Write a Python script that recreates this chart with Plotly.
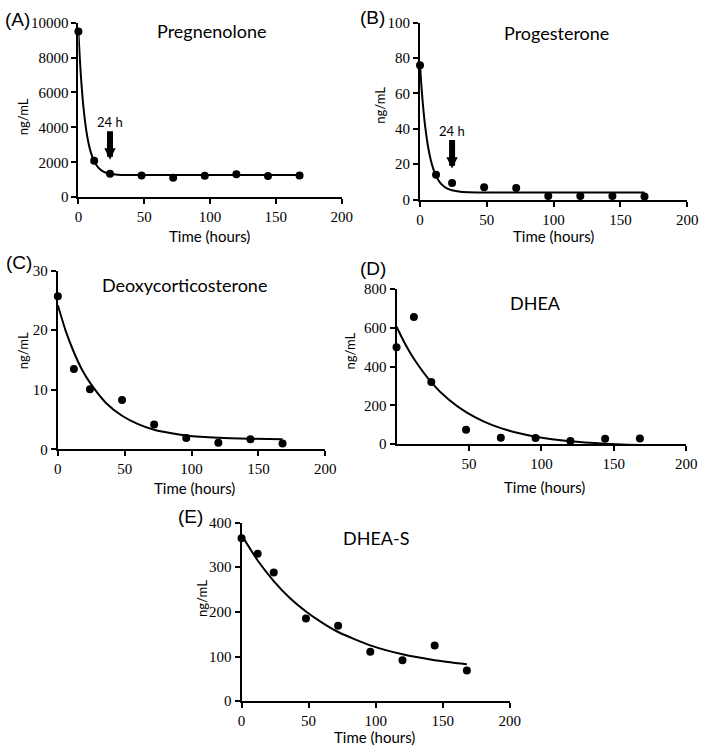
import plotly.graph_objects as go

W, H = 709, 753

# ---------------- data ----------------
time_h = [0, 12, 24, 48, 72, 96, 120, 144, 168]

preg_y = [9500, 2090, 1350, 1250, 1120, 1235, 1310, 1215, 1250]
prog_y = [76, 14.0, 9.4, 7.0, 6.5, 2.0, 2.0, 2.0, 1.7]
doc_y = [25.7, 13.5, 10.1, 8.3, 4.2, 1.9, 1.1, 1.7, 1.0]
dhea_y = [500, 655, 320, 75, 33, 32, 17, 28, 30]
dheas_y = [365, 330, 288, 185, 169, 111, 92, 125, 69]

# fitted decay curves
preg_fit_t = [0, 1, 2, 3, 4, 6, 8, 10, 12, 15, 18, 21, 24, 30, 36, 48, 168]
preg_fit_y = [9500, 8040, 6840, 5850, 5040, 3820, 2995, 2437, 2058, 1707, 1511, 1402, 1341, 1289, 1272, 1266, 1265]

prog_fit_t = [0, 1, 2, 3, 4, 6, 8, 10, 12, 15, 18, 21, 24, 30, 36, 48, 168]
prog_fit_y = [76, 64.7, 55.2, 47.2, 40.5, 30.0, 22.5, 17.2, 13.4, 9.6, 7.4, 6.0, 5.2, 4.4, 4.16, 4.0, 4.0]

doc_fit_t = [0, 6, 12, 18, 24, 36, 48, 60, 72, 84, 96, 120, 144, 168]
doc_fit_y = [24.2, 19.8, 16.3, 13.4, 11.2, 7.8, 5.65, 4.25, 3.3, 2.75, 2.35, 1.95, 1.78, 1.7]

dhea_fit_t = [0, 6, 12, 24, 36, 48, 60, 72, 84, 96, 120, 144, 168]
dhea_fit_y = [605, 516, 440, 319, 230, 165, 118, 83, 57.5, 38.8, 15.3, 2.6, -4.2]

dheas_fit_t = [0, 12, 24, 36, 48, 60, 72, 96, 120, 144, 168]
dheas_fit_y = [372, 315, 269, 231, 201, 176, 155, 125, 105, 92, 83]

x_ticks = [0, 50, 100, 150, 200]
x_ticks_d = [50, 100, 150, 200]

arrow_time = 24
arrow_label = "24 h"
preg_arrow_tip = 2150
prog_arrow_tip = 17.5

panels = [
    dict(label="(A)", title="Pregnenolone", y=preg_y, ft=preg_fit_t, fy=preg_fit_y,
         yr=[0, 10000], yt=[0, 2000, 4000, 6000, 8000, 10000], xt=x_ticks,
         box=(76, 345, 15, 193.3), lab=(14, 12), tit=(212.7, 24), yl=(19, 111), xl=(210, 233)),
    dict(label="(B)", title="Progesterone", y=prog_y, ft=prog_fit_t, fy=prog_fit_y,
         yr=[0, 100], yt=[0, 20, 40, 60, 80, 100], xt=x_ticks,
         box=(425, 698, 15, 195.7), lab=(376, 10), tit=(564.7, 26), yl=(384, 99), xl=(561, 233)),
    dict(label="(C)", title="Deoxycorticosterone", y=doc_y, ft=doc_fit_t, fy=doc_fit_y,
         yr=[0, 30], yt=[0, 10, 20, 30], xt=x_ticks,
         box=(55, 328.3, 268.3, 451), lab=(15, 260), tit=(184.5, 283), yl=(19, 350), xl=(195, 490)),
    dict(label="(D)", title="DHEA", y=dhea_y, ft=dhea_fit_t, fy=dhea_fit_y,
         yr=[0, 800], yt=[0, 200, 400, 600, 800], xt=x_ticks_d,
         box=(401, 697, 287, 445.7), lab=(377, 266), tit=(543, 301), yl=(352.5, 351), xl=(552, 489)),
    dict(label="(E)", title="DHEA-S", y=dheas_y, ft=dheas_fit_t, fy=dheas_fit_y,
         yr=[0, 400], yt=[0, 100, 200, 300, 400], xt=x_ticks,
         box=(242.7, 516.7, 525.7, 708.3), lab=(191, 520), tit=(379.7, 541), yl=(202, 603), xl=(379, 745)),
]

SERIF = "Liberation Serif, Times New Roman, serif"
SANS = "Lato, Open Sans, sans-serif"
LABEL_FONT = "Liberation Sans, Arial, sans-serif"

def px(x):
    return x / W

def py(y):
    return 1 - y / H

fig = go.Figure()
annotations = []

for i, p in enumerate(panels, start=1):
    xa = "x" if i == 1 else f"x{i}"
    ya = "y" if i == 1 else f"y{i}"
    fig.add_trace(go.Scatter(x=p["ft"], y=p["fy"], mode="lines", xaxis=xa, yaxis=ya,
                             line=dict(color="black", width=2, shape="spline", smoothing=0.6),
                             showlegend=False, hoverinfo="skip", cliponaxis=False))
    fig.add_trace(go.Scatter(x=time_h, y=p["y"], mode="markers", xaxis=xa, yaxis=ya,
                             marker=dict(color="black", size=8), showlegend=False, cliponaxis=False))
    x0, x1, yt, yb = p["box"]
    axis_common = dict(showgrid=False, zeroline=False, showline=True, linecolor="black", linewidth=2,
                       ticks="outside", ticklen=5, tickwidth=2, tickcolor="black",
                       tickfont=dict(family=SERIF, size=15, color="black"), layer="below traces")
    xkey = "xaxis" if i == 1 else f"xaxis{i}"
    ykey = "yaxis" if i == 1 else f"yaxis{i}"
    fig.update_layout({
        xkey: dict(domain=[px(x0), px(x1)], range=[0, 200], tickvals=p["xt"],
                   ticktext=[str(v) for v in p["xt"]], anchor=ya, **axis_common),
        ykey: dict(domain=[py(yb), py(yt)], range=p["yr"], tickvals=p["yt"],
                   ticktext=[str(v) for v in p["yt"]], anchor=xa, **axis_common),
    })
    annotations.append(dict(text=p["label"], x=px(p["lab"][0]), y=py(p["lab"][1]), xref="paper", yref="paper",
                            showarrow=False, xanchor="center", yanchor="middle",
                            font=dict(family=LABEL_FONT, size=19, color="black")))
    annotations.append(dict(text=p["title"], x=px(p["tit"][0]), y=py(p["tit"][1]), xref="paper", yref="paper",
                            showarrow=False, xanchor="center", yanchor="middle",
                            font=dict(family=SANS, size=18, color="black")))
    annotations.append(dict(text="ng/mL", x=px(p["yl"][0]), y=py(p["yl"][1]), xref="paper", yref="paper",
                            showarrow=False, xanchor="center", yanchor="middle", textangle=-90,
                            font=dict(family=SANS, size=13, color="black")))
    annotations.append(dict(text="Time (hours)", x=px(p["xl"][0]), y=py(p["xl"][1]), xref="paper", yref="paper",
                            showarrow=False, xanchor="center", yanchor="middle",
                            font=dict(family=SANS, size=15, color="black")))

# 24 h arrows (panels A and B)
for xa, ya, tip, lab_y in [("x", "y", preg_arrow_tip, 116), ("x2", "y2", prog_arrow_tip, 126)]:
    annotations.append(dict(x=arrow_time, y=tip, xref=xa, yref=ya, text="", showarrow=True,
                            ax=0, ay=-30, arrowhead=2, arrowwidth=6, arrowsize=0.38, arrowcolor="black"))
    annotations.append(dict(text=arrow_label, x=arrow_time, xref=xa, y=py(lab_y), yref="paper",
                            showarrow=False, xanchor="center", yanchor="middle",
                            font=dict(family=SANS, size=13, color="black")))

fig.update_layout(width=W, height=H, margin=dict(l=0, r=0, t=0, b=0),
                  plot_bgcolor="white", paper_bgcolor="white", annotations=annotations,
                  showlegend=False)

fig.write_html("out.html", config={"displayModeBar": False},
               post_script="document.body.style.margin='0';")
